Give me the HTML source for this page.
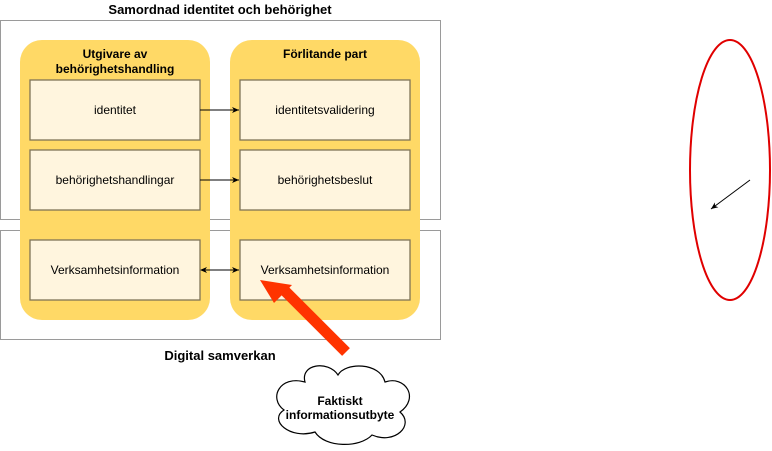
<!DOCTYPE html>
<html><head><meta charset="utf-8"><style>
html,body{margin:0;padding:0;background:#fff;}
svg{display:block;font-family:"Liberation Sans",Arial,sans-serif;}
</style></head><body>
<svg width="772" height="451" viewBox="0 0 772 451" xmlns="http://www.w3.org/2000/svg">
<defs>
<marker id="ah" markerWidth="8" markerHeight="8" refX="7" refY="4" orient="auto" markerUnits="userSpaceOnUse">
<path d="M0,1 L7,4 L0,7 L2,4 Z" fill="#000"/></marker>
<marker id="ahs" markerWidth="8" markerHeight="8" refX="1" refY="4" orient="auto" markerUnits="userSpaceOnUse">
<path d="M7,1 L0,4 L7,7 L5,4 Z" fill="#000"/></marker>
</defs>
<rect x="0.5" y="20.5" width="440" height="199" fill="#fff" stroke="#9a9a9a" stroke-width="1"/>
<rect x="0.5" y="230.5" width="440" height="109" fill="#fff" stroke="#9a9a9a" stroke-width="1"/>
<text x="220" y="14" text-anchor="middle" font-size="13" font-weight="bold">Samordnad identitet och behörighet</text>
<text x="220" y="360" text-anchor="middle" font-size="13" font-weight="bold">Digital samverkan</text>
<rect x="20" y="40" width="190" height="280" rx="22" fill="#ffd966"/>
<rect x="230" y="40" width="190" height="280" rx="22" fill="#ffd966"/>
<text x="115" y="58" text-anchor="middle" font-size="12" font-weight="bold">Utgivare av</text>
<text x="115" y="73" text-anchor="middle" font-size="12" font-weight="bold">behörighetshandling</text>
<text x="325" y="58" text-anchor="middle" font-size="12" font-weight="bold">Förlitande part</text>
<g fill="#fff5de" stroke="#7f7456" stroke-width="1.3">
<rect x="30" y="80" width="170" height="60"/><rect x="30" y="150" width="170" height="60"/><rect x="30" y="240" width="170" height="60"/>
<rect x="240" y="80" width="170" height="60"/><rect x="240" y="150" width="170" height="60"/><rect x="240" y="240" width="170" height="60"/>
</g>
<g font-size="12" text-anchor="middle">
<text x="115" y="114">identitet</text><text x="115" y="184">behörighetshandlingar</text><text x="115" y="274">Verksamhetsinformation</text>
<text x="325" y="114">identitetsvalidering</text><text x="325" y="184">behörighetsbeslut</text><text x="325" y="274">Verksamhetsinformation</text>
</g>
<g stroke="#000" stroke-width="1">
<line x1="200" y1="110" x2="239" y2="110" marker-end="url(#ah)"/>
<line x1="200" y1="180" x2="239" y2="180" marker-end="url(#ah)"/>
<line x1="201" y1="270" x2="239" y2="270" marker-end="url(#ah)" marker-start="url(#ahs)"/>
</g>
<path d="M346,352 L284,290" stroke="#ff3300" stroke-width="11"/>
<path d="M260,280 L292,285 L274,303 Z" fill="#ff3300"/>
<path d="M305,382 C280,375 268,398 284,410 C268,420 290,440 315,432 C325,448 360,448 372,435 C395,445 415,425 400,412 C420,398 405,375 385,382 C380,362 345,362 338,375 C328,360 300,364 305,382 Z" fill="#fff" stroke="#000" stroke-width="1.2"/>
<text x="340" y="405" text-anchor="middle" font-size="12" font-weight="bold">Faktiskt</text>
<text x="340" y="419" text-anchor="middle" font-size="12" font-weight="bold">informationsutbyte</text>
<ellipse cx="730" cy="170" rx="40" ry="130" fill="none" stroke="#e00000" stroke-width="2"/>
<line x1="750" y1="180" x2="711" y2="209" stroke="#000" stroke-width="1" marker-end="url(#ah)"/>
</svg>
</body></html>
